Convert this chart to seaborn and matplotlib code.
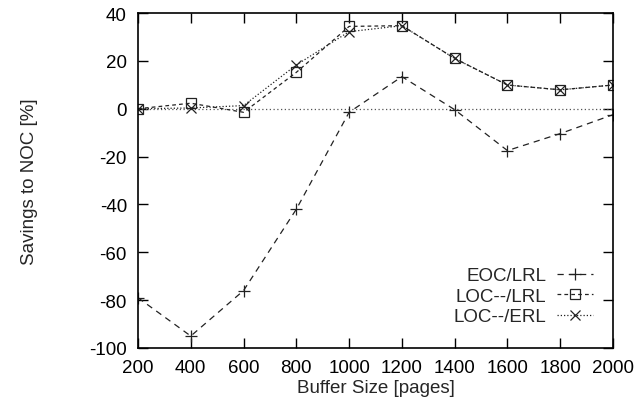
import matplotlib
matplotlib.use("Agg")
import matplotlib.pyplot as plt
import seaborn as sns
import pandas as pd

buffer_sizes = [200, 400, 600, 800, 1000, 1200, 1400, 1600, 1800, 2000]
eoc_lrl = [-79, -95, -76, -42, -1.5, 13.4, -0.4, -17.5, -10.4, -2.5]
loc_lrl = [0, 2.3, -1.5, 15.2, 34.4, 34.7, 21, 9.9, 7.9, 9.9]
loc_erl = [0, 0.3, 1.3, 18.3, 32.2, 34.7, 21, 9.9, 7.9, 9.9]
series_names = ["EOC/LRL", "LOC--/LRL", "LOC--/ERL"]
x_ticks = [200, 400, 600, 800, 1000, 1200, 1400, 1600, 1800, 2000]
y_ticks = [-100, -80, -60, -40, -20, 0, 20, 40]

sns.set_theme(style="ticks")
plt.rcParams['font.family'] = ['Liberation Sans', 'DejaVu Sans']
plt.rcParams['axes.unicode_minus'] = False

FS = 13.5
fig = plt.figure(figsize=(6.34, 4.02), dpi=100)
ax = fig.add_axes([138/634, 1-349/402, (613-138)/634, (349-14)/402])

ax.axhline(0, color="#555555", lw=0.9, linestyle=(0, (1, 2)), zorder=1)

styles = [
    dict(marker="+", markersize=8, dashes=(5, 4)),
    dict(marker="s", markersize=7, dashes=(3, 2.5)),
    dict(marker="x", markersize=7, dashes=(1, 1.6)),
]
data = [eoc_lrl, loc_lrl, loc_erl]
for name, vals, st in zip(series_names, data, styles):
    df = pd.DataFrame({"x": buffer_sizes, "y": vals})
    sns.lineplot(data=df, x="x", y="y", ax=ax, label=name,
                 marker=st["marker"], markersize=st["markersize"],
                 markeredgewidth=0.9, markeredgecolor="#222222",
                 markerfacecolor="none", color="#222222", lw=0.9)
    ax.lines[-1].set_dashes(st["dashes"])

ax.set_xlim(200, 2000)
ax.set_ylim(-100, 40)
ax.set_xticks(x_ticks)
ax.set_yticks(y_ticks)
ax.tick_params(direction="in", length=7, width=1, top=True, right=True,
               labelsize=FS, colors="black", pad=8)
for s in ax.spines.values():
    s.set_visible(True)
    s.set_linewidth(1.2)
    s.set_color("black")
ax.set_xlabel("Buffer Size [pages]", fontsize=FS, labelpad=2)
ax.set_ylabel("Savings to NOC [%]", fontsize=FS, labelpad=37)

leg = ax.legend(loc="lower right", markerfirst=False, frameon=False,
                fontsize=FS, handlelength=1.95, handletextpad=0.55,
                labelspacing=0.18, borderaxespad=0,
                bbox_to_anchor=(0.974, 0.045))

fig.savefig("out.png", dpi=100)
